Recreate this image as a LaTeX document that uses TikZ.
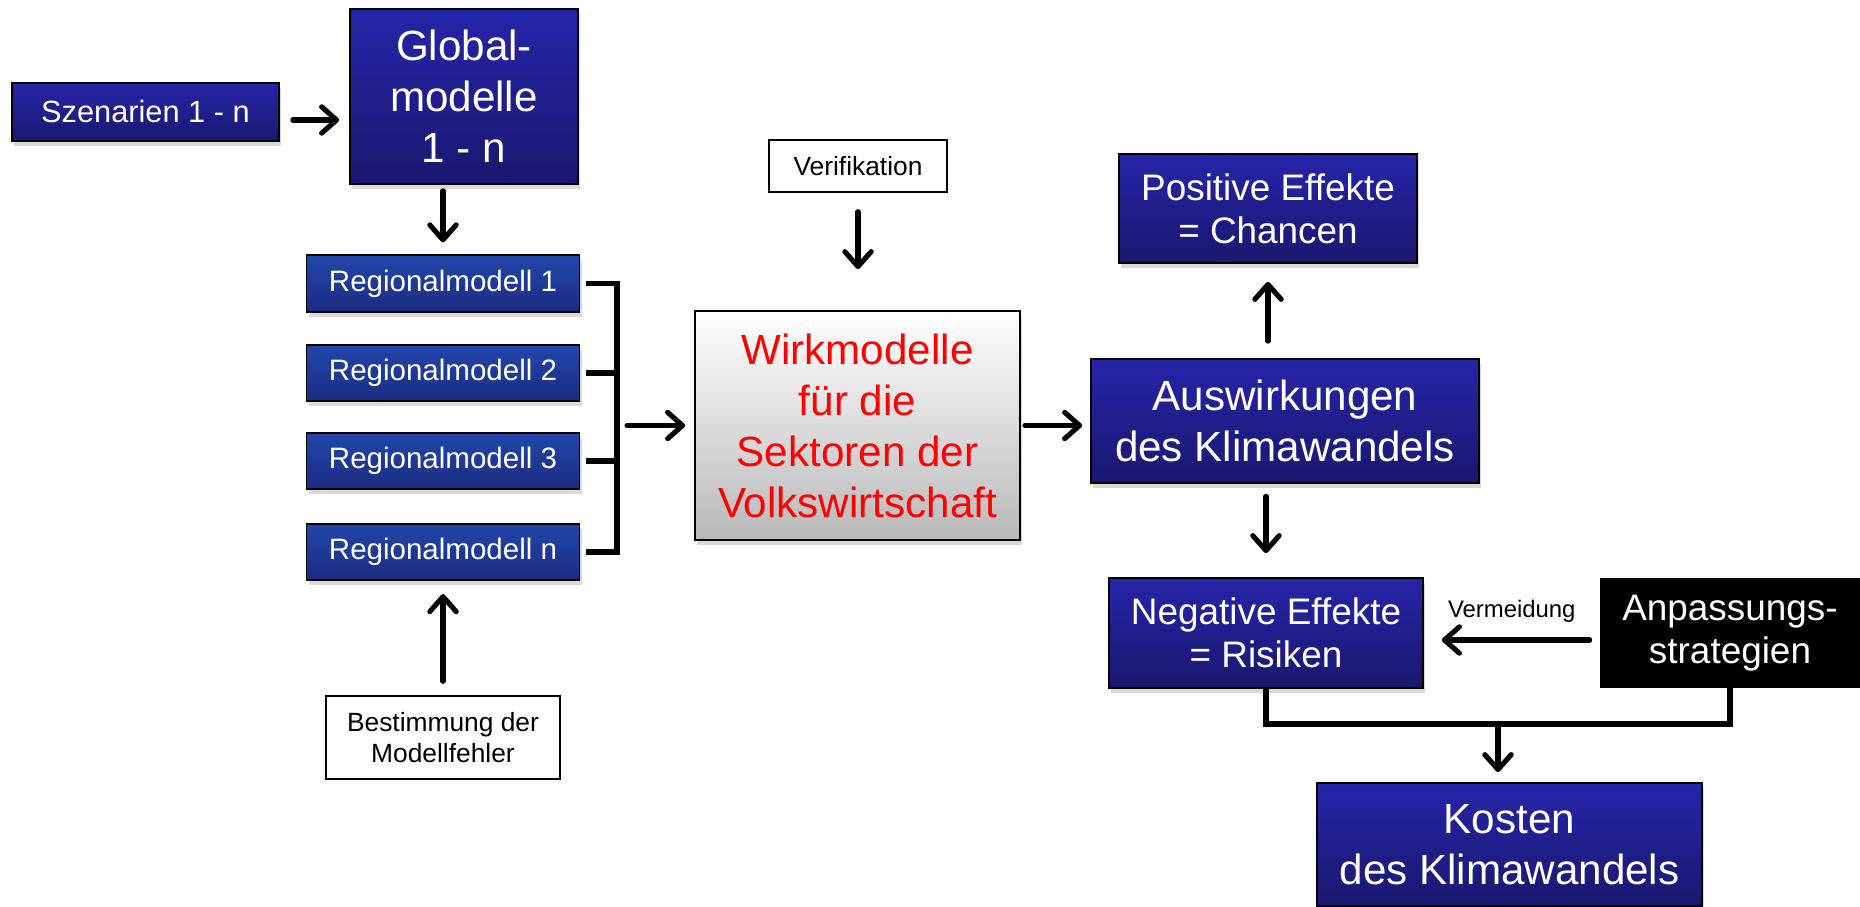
\documentclass[tikz,border=0pt]{standalone}
\usepackage{fontspec}
\setmainfont{Liberation Sans}
\usepackage{xcolor}
\usetikzlibrary{arrows.meta,positioning,shadows}

\definecolor{bluetop}{RGB}{38,36,168}
\definecolor{bluebot}{RGB}{26,24,110}
\definecolor{regtop}{RGB}{33,70,170}
\definecolor{regbot}{RGB}{28,44,128}
\definecolor{greybot}{RGB}{185,185,185}

\begin{document}
\begin{tikzpicture}
	\begin{scope}

\tikzset{box/.style={draw=black,line width=1pt,inner sep=0pt,align=center,text=white,
		drop shadow={opacity=0.3,shadow xshift=0.04cm,shadow yshift=-0.1cm}},
	bluebox/.style={box,top color=bluetop,bottom color=bluebot},
	regbox/.style={box,top color=regtop,bottom color=regbot,minimum width=5.46cm,minimum height=1.13cm,font=\fontsize{16.8}{20}\selectfont},
	plainbox/.style={draw=black,line width=0.8pt,fill=white,align=center,inner sep=0pt,font=\fontsize{15}{17.5}\selectfont},
	arr/.style={line width=2.9pt,line cap=round,-{Straight Barb[round,length=8.5pt,width=15pt]}},
	bar/.style={line width=2.9pt},
	big/.style={font=\fontsize{24}{29}\selectfont},
	mid/.style={font=\fontsize{21}{24.5}\selectfont}}

\useasboundingbox (0,0) rectangle (37.2,-18.14);

% left column
\node(szen)[bluebox,minimum width=5.34cm,minimum height=1.16cm,font=\fontsize{17.5}{20}\selectfont] at (2.91,-2.24){Szenarien 1 - n};
\node(glob)[bluebox,big,minimum width=4.56cm,minimum height=3.5cm] at (9.28,-1.93){Global-\\modelle\\1 - n};

\foreach \n/\y in {1/-5.67,2/-7.46,3/-9.22,n/-11.04}
{
\node(reg\n)[regbox] at (8.86,\y){Regionalmodell \n};
}

\node(best)[plainbox,minimum width=4.68cm,minimum height=1.66cm] at (8.86,-14.75){Bestimmung der\\Modellfehler};

% middle
\node(verif)[plainbox,minimum width=3.56cm,minimum height=1.04cm] at (17.16,-3.32){Verifikation};
\node(wirk)[box,top color=white,bottom color=greybot,text=red,big,minimum width=6.5cm,minimum height=4.58cm] at (17.15,-8.51){Wirkmodelle\\für die\\Sektoren der\\Volkswirtschaft};

% right part
\node(ausw)[bluebox,big,minimum width=7.76cm,minimum height=2.48cm] at (25.7,-8.42){Auswirkungen\\des Klimawandels};
\node(pos)[bluebox,mid,minimum width=5.96cm,minimum height=2.18cm] at (25.36,-4.17){Positive Effekte\\= Chancen};
\node(neg)[bluebox,mid,minimum width=6.28cm,minimum height=2.2cm] at (25.32,-12.66){Negative Effekte\\= Risiken};
\node(anp)[fill=black,text=white,align=center,inner sep=0pt,mid,minimum width=5.2cm,minimum height=2.2cm] at (34.6,-12.66){Anpassungs-\\strategien};
\node(kost)[bluebox,big,minimum width=7.7cm,minimum height=2.46cm] at (30.19,-16.89){Kosten\\des Klimawandels};

% connectors
\draw[arr,shorten <=0.26cm,shorten >=0.2cm] ([yshift=-0.16cm]szen.east) -- ([yshift=-0.16cm]szen.east -| glob.west);
\draw[arr,shorten <=0.12cm,shorten >=0.24cm] (reg1.north |- glob.south) -- (reg1.north);

\coordinate (brk) at (12.34,-8.51);
\draw[bar] ([xshift=0.12cm]reg1.east) -| (brk) |- ([xshift=0.12cm]regn.east);
\foreach \n in {2,3}
	\draw[bar] ([xshift=0.12cm]reg\n.east) -- (reg\n.east -| brk);
\draw[arr,shorten <=0.2cm,shorten >=0.18cm] (brk |- wirk) -- (wirk.west);

\draw[arr,shorten <=0.38cm,shorten >=0.82cm] (verif.south) -- (verif.south |- wirk.north);
\draw[arr,shorten <=0.28cm,shorten >=0.26cm] (best.north) -- (best.north |- regn.south);
\draw[arr,shorten <=0.08cm,shorten >=0.16cm] (wirk.east) -- (wirk.east -| ausw.west);

\draw[arr,shorten <=0.34cm,shorten >=0.36cm] (pos.south |- ausw.north) -- (pos.south);
\draw[arr,shorten <=0.25cm,shorten >=0.48cm] (neg.north |- ausw.south) -- (neg.north);
\draw[arr,shorten <=0.2cm,shorten >=0.36cm] ([yshift=-0.14cm]anp.west) -- ([yshift=-0.14cm]anp.west -| neg.east)
	node(verm)[midway,above=0.3cm,inner sep=0pt,text=black,font=\fontsize{13.6}{16}\selectfont]{Vermeidung};

\coordinate (join) at (29.96,-14.48);
\draw[bar] (neg.south) |- (join) -| (anp.south);
\draw[arr,shorten >=0.2cm] (join) -- (join |- kost.north);

	\end{scope}
\end{tikzpicture}
\end{document}
